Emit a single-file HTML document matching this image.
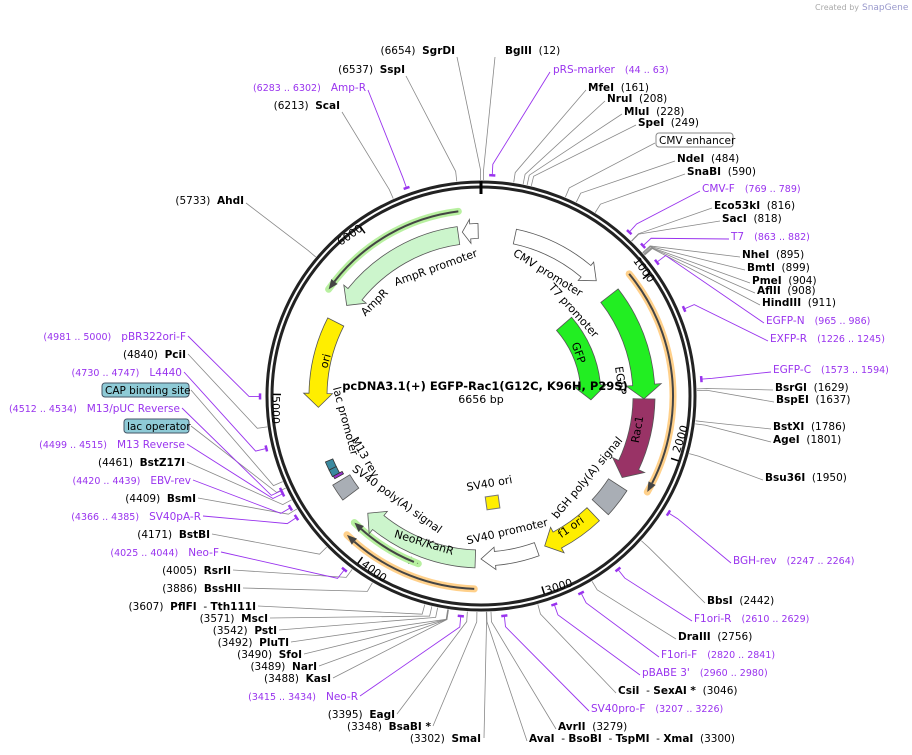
<!DOCTYPE html>
<html><head><meta charset="utf-8"><style>
body{margin:0;background:#fff}
svg{display:block;font-family:"DejaVu Sans","Liberation Sans",sans-serif}
text{white-space:pre}
.l{font-size:10.5px;fill:#000}
.l tspan.b{font-weight:bold}
.p{font-size:10.5px;fill:#9933ee}
.f{font-size:11px;fill:#000}
</style></head><body>
<svg id="s" width="912" height="755" viewBox="0 0 912 755" xmlns="http://www.w3.org/2000/svg" xml:space="preserve">
<text x="815" y="10" font-size="8" fill="#aaa">Created by</text><text x="862" y="10" font-size="9" fill="#99c">SnapGene</text>
<g id="lines"></g>
<circle cx="481" cy="396" r="214" fill="none" stroke="#222" stroke-width="3"/>
<circle cx="481" cy="396" r="209" fill="none" stroke="#222" stroke-width="3"/>
<line x1="481" y1="181" x2="481" y2="194" stroke="#000" stroke-width="3"/>
<g id="feat"></g>
<text class="f" font-size="10" transform="translate(641,272) rotate(54)" text-anchor="middle">1000</text>
<text class="f" font-size="10" transform="translate(684,440) rotate(-72)" text-anchor="middle">2000</text>
<text class="f" font-size="10" transform="translate(560,590) rotate(-18)" text-anchor="middle">3000</text>
<text class="f" font-size="10" transform="translate(372,574) rotate(36)" text-anchor="middle">4000</text>
<text class="f" font-size="10" transform="translate(272,410) rotate(90)" text-anchor="middle">5000</text>
<text class="f" font-size="10" transform="translate(352,238) rotate(-35)" text-anchor="middle">6000</text>
<text x="485" y="390" font-size="11.5" font-weight="bold" text-anchor="middle">pcDNA3.1(+) EGFP-Rac1(G12C, K96H, P29S)</text>
<text x="481" y="403" font-size="11" text-anchor="middle">6656 bp</text>
<text class="f" transform="translate(437,271) rotate(-20)" text-anchor="middle">AmpR promoter</text>
<text class="f" transform="translate(377,305) rotate(-45)" text-anchor="middle">AmpR</text>
<text class="f" transform="translate(546,276) rotate(32)" text-anchor="middle">CMV promoter</text>
<text class="f" transform="translate(571,313) rotate(48)" text-anchor="middle">T7 promoter</text>
<text class="f" transform="translate(575,354) rotate(70)" text-anchor="middle">GFP</text>
<text class="f" transform="translate(617,381) rotate(82)" text-anchor="middle">EGFP</text>
<text class="f" transform="translate(641,430) rotate(-80)" text-anchor="middle" fill="#fff">Rac1</text>
<text class="f" transform="translate(329,362) rotate(-75)" text-anchor="middle">ori</text>
<text class="f" transform="translate(342,422) rotate(75)" text-anchor="middle">lac promoter</text>
<text class="f" transform="translate(362,459) rotate(60)" text-anchor="middle">M13 rev</text>
<text class="f" transform="translate(395,502) rotate(36)" text-anchor="middle">SV40 poly(A) signal</text>
<text class="f" transform="translate(423,546) rotate(17)" text-anchor="middle">NeoR/KanR</text>
<text class="f" transform="translate(508,535) rotate(-13)" text-anchor="middle">SV40 promoter</text>
<text class="f" transform="translate(573,530) rotate(-35)" text-anchor="middle">f1 ori</text>
<text class="f" transform="translate(590,480) rotate(-50)" text-anchor="middle">bGH poly(A) signal</text>
<text class="f" transform="translate(490,487) rotate(-10)" text-anchor="middle">SV40 ori</text>
<rect x="486" y="496" width="13" height="13" fill="#ffee00" stroke="#777" transform="rotate(-8 492 502)"/>
<g class="l">
<text x="505" y="54"><tspan class="b">BglII</tspan>  (12)</text>
<text x="588" y="91"><tspan class="b">MfeI</tspan>  (161)</text>
<text x="607" y="102"><tspan class="b">NruI</tspan>  (208)</text>
<text x="624" y="115"><tspan class="b">MluI</tspan>  (228)</text>
<text x="638" y="126"><tspan class="b">SpeI</tspan>  (249)</text>
<text x="677" y="162"><tspan class="b">NdeI</tspan>  (484)</text>
<text x="687" y="175"><tspan class="b">SnaBI</tspan>  (590)</text>
<text x="714" y="209"><tspan class="b">Eco53kI</tspan>  (816)</text>
<text x="722" y="222"><tspan class="b">SacI</tspan>  (818)</text>
<text x="742" y="258"><tspan class="b">NheI</tspan>  (895)</text>
<text x="747" y="271"><tspan class="b">BmtI</tspan>  (899)</text>
<text x="752" y="284"><tspan class="b">PmeI</tspan>  (904)</text>
<text x="757" y="294"><tspan class="b">AflII</tspan>  (908)</text>
<text x="762" y="306"><tspan class="b">HindIII</tspan>  (911)</text>
<text x="775" y="391"><tspan class="b">BsrGI</tspan>  (1629)</text>
<text x="776" y="403"><tspan class="b">BspEI</tspan>  (1637)</text>
<text x="773" y="430"><tspan class="b">BstXI</tspan>  (1786)</text>
<text x="773" y="443"><tspan class="b">AgeI</tspan>  (1801)</text>
<text x="765" y="481"><tspan class="b">Bsu36I</tspan>  (1950)</text>
<text x="707" y="604"><tspan class="b">BbsI</tspan>  (2442)</text>
<text x="678" y="640"><tspan class="b">DraIII</tspan>  (2756)</text>
<text x="618" y="694"><tspan class="b">CsiI</tspan>  - <tspan class="b">SexAI *</tspan>  (3046)</text>
<text x="558" y="730"><tspan class="b">AvrII</tspan>  (3279)</text>
<text x="529" y="742"><tspan class="b">AvaI</tspan>  - <tspan class="b">BsoBI</tspan>  - <tspan class="b">TspMI</tspan>  - <tspan class="b">XmaI</tspan>  (3300)</text>
</g>
<g class="p">
<text x="553" y="73">pRS-marker   <tspan font-size="9.5">(44 .. 63)</tspan></text>
<text x="702" y="192">CMV-F   <tspan font-size="9.5">(769 .. 789)</tspan></text>
<text x="731" y="240">T7   <tspan font-size="9.5">(863 .. 882)</tspan></text>
<text x="766" y="324">EGFP-N   <tspan font-size="9.5">(965 .. 986)</tspan></text>
<text x="770" y="342">EXFP-R   <tspan font-size="9.5">(1226 .. 1245)</tspan></text>
<text x="773" y="373">EGFP-C   <tspan font-size="9.5">(1573 .. 1594)</tspan></text>
<text x="733" y="564">BGH-rev   <tspan font-size="9.5">(2247 .. 2264)</tspan></text>
<text x="694" y="622">F1ori-R   <tspan font-size="9.5">(2610 .. 2629)</tspan></text>
<text x="661" y="658">F1ori-F   <tspan font-size="9.5">(2820 .. 2841)</tspan></text>
<text x="642" y="676">pBABE 3'   <tspan font-size="9.5">(2960 .. 2980)</tspan></text>
<text x="591" y="712">SV40pro-F   <tspan font-size="9.5">(3207 .. 3226)</tspan></text>
</g>
<rect x="656" y="133" width="77" height="14" rx="3" fill="#fff" stroke="#888"/>
<text class="l" x="659" y="144">CMV enhancer</text>
<g class="l" text-anchor="end">
<text x="455" y="54">(6654)  <tspan class="b">SgrDI</tspan></text>
<text x="405" y="73">(6537)  <tspan class="b">SspI</tspan></text>
<text x="340" y="109">(6213)  <tspan class="b">ScaI</tspan></text>
<text x="244" y="204">(5733)  <tspan class="b">AhdI</tspan></text>
<text x="186" y="358">(4840)  <tspan class="b">PciI</tspan></text>
<text x="185" y="466">(4461)  <tspan class="b">BstZ17I</tspan></text>
<text x="196" y="502">(4409)  <tspan class="b">BsmI</tspan></text>
<text x="210" y="538">(4171)  <tspan class="b">BstBI</tspan></text>
<text x="231" y="574">(4005)  <tspan class="b">RsrII</tspan></text>
<text x="241" y="592">(3886)  <tspan class="b">BssHII</tspan></text>
<text x="256" y="610">(3607)  <tspan class="b">PflFI</tspan>  - <tspan class="b">Tth111I</tspan></text>
<text x="268" y="622">(3571)  <tspan class="b">MscI</tspan></text>
<text x="277" y="634">(3542)  <tspan class="b">PstI</tspan></text>
<text x="289" y="646">(3492)  <tspan class="b">PluTI</tspan></text>
<text x="302" y="658">(3490)  <tspan class="b">SfoI</tspan></text>
<text x="317" y="670">(3489)  <tspan class="b">NarI</tspan></text>
<text x="331" y="682">(3488)  <tspan class="b">KasI</tspan></text>
<text x="395" y="718">(3395)  <tspan class="b">EagI</tspan></text>
<text x="431" y="730">(3348)  <tspan class="b">BsaBI *</tspan></text>
<text x="481" y="742">(3302)  <tspan class="b">SmaI</tspan></text>
</g>
<g class="p" text-anchor="end">
<text x="366" y="91"><tspan font-size="9.5">(6283 .. 6302)</tspan>   Amp-R</text>
<text x="186" y="340"><tspan font-size="9.5">(4981 .. 5000)</tspan>   pBR322ori-F</text>
<text x="182" y="376"><tspan font-size="9.5">(4730 .. 4747)</tspan>   L4440</text>
<text x="180" y="412"><tspan font-size="9.5">(4512 .. 4534)</tspan>   M13/pUC Reverse</text>
<text x="185" y="448"><tspan font-size="9.5">(4499 .. 4515)</tspan>   M13 Reverse</text>
<text x="191" y="484"><tspan font-size="9.5">(4420 .. 4439)</tspan>   EBV-rev</text>
<text x="201" y="520"><tspan font-size="9.5">(4366 .. 4385)</tspan>   SV40pA-R</text>
<text x="219" y="556"><tspan font-size="9.5">(4025 .. 4044)</tspan>   Neo-F</text>
<text x="358" y="700"><tspan font-size="9.5">(3415 .. 3434)</tspan>   Neo-R</text>
</g>
<rect x="102" y="383" width="87" height="14" rx="3" fill="#8ecad6" stroke="#456"/>
<text class="l" x="105" y="394">CAP binding site</text>
<rect x="124" y="419" width="65" height="14" rx="3" fill="#8ecad6" stroke="#456"/>
<text class="l" x="127" y="430">lac operator</text>
</svg>
<script>
var C=[481,396],NS="http://www.w3.org/2000/svg";
function pt(a,r){a=a*Math.PI/180;return [C[0]+r*Math.sin(a),C[1]-r*Math.cos(a)];}
function el(p,t,at){var e=document.createElementNS(NS,t);for(var k in at)e.setAttribute(k,at[k]);document.getElementById(p).appendChild(e);return e;}
function arc(a1,a2,r){var p=pt(a2,r),big=Math.abs(a2-a1)>180?1:0,sw=a2>a1?1:0;return "A"+r+","+r+" 0 "+big+","+sw+" "+p[0].toFixed(1)+","+p[1].toFixed(1);}
function arrow(s,e,r,w,fill,stroke,head){
 var dir=e>s?1:-1,hl=head===0?0:Math.min(Math.abs(e-s)*0.5,(14/r)*180/Math.PI),b=e-dir*hl,ro=r+w/2,ri=r-w/2,hw=w*0.8;
 var p0=pt(s,ro),d="M"+p0[0]+","+p0[1]+arc(s,b,ro);
 if(hl>0){var h1=pt(b,r+hw),tp=pt(e,r),h2=pt(b,r-hw),bi=pt(b,ri);d+="L"+h1+"L"+tp+"L"+h2+"L"+bi;}
 else{var q=pt(e,ri);d+="L"+q;}
 d+=arc(b,s,ri)+"Z";el("feat","path",{d:d,fill:fill,stroke:stroke,"stroke-width":0.8});}
function hl(s,e,r,glow,head){
 var p=pt(s,r);el("feat","path",{d:"M"+p+arc(s,e,r),fill:"none",stroke:glow,"stroke-width":7,"stroke-linecap":"round"});
 var dir=e>s?1:-1,b=e-dir*3,p2=pt(b,r);
 el("feat","path",{d:"M"+p+arc(s,b,r),fill:"none",stroke:"#444","stroke-width":2});
 var t=pt(e,r),h1=pt(b,r+4),h2=pt(b,r-4);el("feat","path",{d:"M"+h1+"L"+t+"L"+h2+"Z",fill:"#444"});}
hl(353,305,186,"#b8f0a0");hl(50.5,120,192,"#ffd08a");hl(225,200.5,179,"#b8f0a0");hl(202,225,179,"#b8f0a0");hl(182,224,193,"#ffd08a");
arrow(359,353.5,165,15,"#fff","#555");
arrow(352,304,162,18,"#ccf5cc","#555");
arrow(297,266,163,18,"#ffee00","#555");
arrow(12,45,163,15,"#fff","#555");
arrow(52,91,163,22,"#22ee22","#555");
arrow(49,92,110,20,"#22ee22","#555");
arrow(91,120,163,22,"#993366","#555");
arrow(123,133,163,22,"#a9aeb5","#555",0);
arrow(136.5,157,163,18,"#ffee00","#555");
arrow(160,180,163,14,"#fff","#555");
arrow(182,224,163,18,"#ccf5cc","#555");
arrow(233,239,163,20,"#a9aeb5","#555",0);
arrow(244,247,165,8,"#3a8aa0","#333",0);arrow(241.5,244,165,8,"#3a8aa0","#333",0);arrow(240.5,241.5,163,10,"#9933cc","#333",0);
var L=[[12,495,57],[161,586,90],[208,605,101],[228,622,114],[249,636,125],[425,655,143],[484,675,161],[590,685,174],[816,712,208],[818,720,221],[895,740,257],[899,745,270],[904,750,283],[908,755,293],[911,760,305],[1629,773,390],[1637,774,402],[1786,771,429],[1801,771,442],[1950,763,480],[2442,705,603],[2756,676,639],[3046,616,693],[3279,556,729],[3300,527,741],
[6654,457,57],[6537,406,76],[6213,342,112],[5733,246,203],[4840,188,354],[4461,187,462],[4409,198,498],[4171,212,534],[4005,233,570],[3886,243,588],[3607,258,606],[3571,270,618],[3542,279,630],[3492,291,642],[3490,304,654],[3489,319,666],[3488,333,678],[3395,397,714],[3348,433,726],[3302,484,738],[4560,191,390],[4525,191,426]];
var P=[[54,550,72],[779,700,191],[872,729,239],[975,764,323],[1235,768,341],[1583,771,372],[2255,731,563],[2620,692,621],[2830,659,657],[2970,640,675],[3216,589,711],[6292,368,90],[4990,188,336],[4738,184,372],[4523,182,408],[4507,187,444],[4430,193,480],[4375,203,516],[4034,221,552],[3425,360,696]];
L.forEach(function(q){var a=q[0]*360/6656,p=pt(a,216),p2=pt(a,226);el("lines","path",{d:"M"+p+"L"+p2+"L"+q[1]+","+q[2],fill:"none",stroke:"#888","stroke-width":0.8});});
P.forEach(function(q){var a=q[0]*360/6656,p=pt(a,222),p2=pt(a,232);el("lines","path",{d:"M"+p+"L"+p2+"L"+q[1]+","+q[2],fill:"none",stroke:"#9933ee","stroke-width":0.9});
 var s=pt(a-0.8,221),e=pt(a+0.8,221);el("lines","path",{d:"M"+s+"L"+e,stroke:"#9933ee","stroke-width":2.5});});
[1000,2000,3000,4000,5000,6000].forEach(function(b){var a=b*360/6656,p=pt(a,208),q=pt(a,200);el("feat","path",{d:"M"+p+"L"+q,stroke:"#000","stroke-width":1.5});});
</script>
</body></html>
